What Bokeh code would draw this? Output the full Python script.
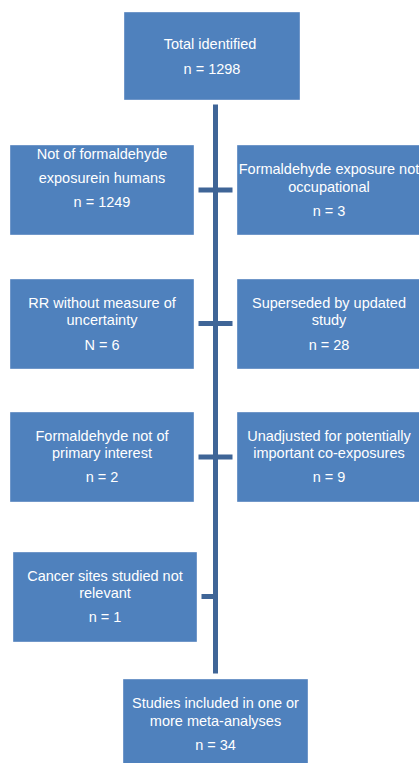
from bokeh.plotting import figure
from bokeh.models import Range1d, ColumnDataSource
from bokeh.core.properties import value
from bokeh.embed import file_html
from bokeh.resources import INLINE

# ---- data (text content of the flow chart) ----
top_label = ["Total  identified"]
top_count = "n = 1298"
left_labels = [["Not of formaldehyde", "exposurein humans"],
               ["RR without measure of", "uncertainty"],
               ["Formaldehyde not of", "primary interest"],
               ["Cancer sites studied not", "relevant"]]
left_counts = ["n = 1249", "N = 6", "n = 2", "n = 1"]
right_labels = [["Formaldehyde exposure not", "occupational"],
                ["Superseded by updated", "study"],
                ["Unadjusted for potentially", "important co-exposures"]]
right_counts = ["n = 3", "n = 28", "n = 9"]
final_label = ["Studies included in one or", "more meta-analyses"]
final_count = "n = 34"

# ---- layout ----
FILL = "#4F81BD"
EDGE = "#7097C9"
LINE = "#3F6597"
FONT = "Liberation Sans"
FS = "14.5px"

row_tops = [145, 279, 412, 552]
row_conn = [189.5, 323, 456.5, 596]
box_h = 89
left_x = [(10, 193), (10, 193), (10, 193), (13, 196)]
right_x = (237, 420)
spine_x = 215

W, H = 419, 763
p = figure(width=W, height=H, x_range=Range1d(0, W), y_range=Range1d(H, 0),
           output_backend="svg", toolbar_location=None, min_border=0)
p.axis.visible = False
p.grid.visible = False
p.outline_line_color = None
p.background_fill_color = "white"

boxes = dict(l=[], r=[], t=[], b=[])
texts = dict(x=[], y=[], t=[])

def add_box(l, r, t, b):
    boxes["l"].append(l); boxes["r"].append(r); boxes["t"].append(t); boxes["b"].append(b)

def add_lines(cx, ys, lines):
    for yy, s in zip(ys, lines):
        texts["x"].append(cx); texts["y"].append(yy); texts["t"].append(s)

# top box
add_box(124, 299, 12, 99)
add_lines(211.5, [43.7, 68], top_label + [top_count])

# left boxes (first one has evenly spaced lines)
left_offsets = [[8.3, 32.7, 56.7], [23.3, 40.3, 65], [23, 40.7, 64.7], [23, 40.7, 64.7]]
for i, (lab, cnt) in enumerate(zip(left_labels, left_counts)):
    l, r = left_x[i]
    t = row_tops[i]
    add_box(l, r, t, t + box_h)
    add_lines((l + r) / 2, [t + o for o in left_offsets[i]], lab + [cnt])

right_offsets = [[23.3, 41.7, 65], [23.3, 40.3, 65], [23, 40.7, 64.7]]
for i, (lab, cnt) in enumerate(zip(right_labels, right_counts)):
    l, r = right_x
    t = row_tops[i]
    add_box(l, r, t, t + box_h)
    add_lines((l + r) / 2, [t + o for o in right_offsets[i]], lab + [cnt])

# final box
add_box(123, 307, 679, 768)
add_lines(215, [702.3, 720, 744], final_label + [final_count])

# connectors
seg = dict(x0=[spine_x], y0=[104], x1=[spine_x], y1=[673])
for i, yc in enumerate(row_conn):
    x0 = left_x[i][1] + 5
    x1 = right_x[0] - 5 if i < 3 else spine_x
    seg["x0"].append(x0); seg["y0"].append(yc); seg["x1"].append(x1); seg["y1"].append(yc)

p.segment(x0="x0", y0="y0", x1="x1", y1="y1", source=ColumnDataSource(seg),
          line_color=LINE, line_width=5, line_cap="butt")
p.quad(left="l", right="r", top="t", bottom="b", source=ColumnDataSource(boxes),
       fill_color=FILL, line_color=EDGE, line_width=1)
p.text(x="x", y="y", text="t", source=ColumnDataSource(texts),
       text_align="center", text_baseline="middle", text_color="white",
       text_font=value(FONT), text_font_size=FS)

open("out.html", "w").write(file_html(p, INLINE))
